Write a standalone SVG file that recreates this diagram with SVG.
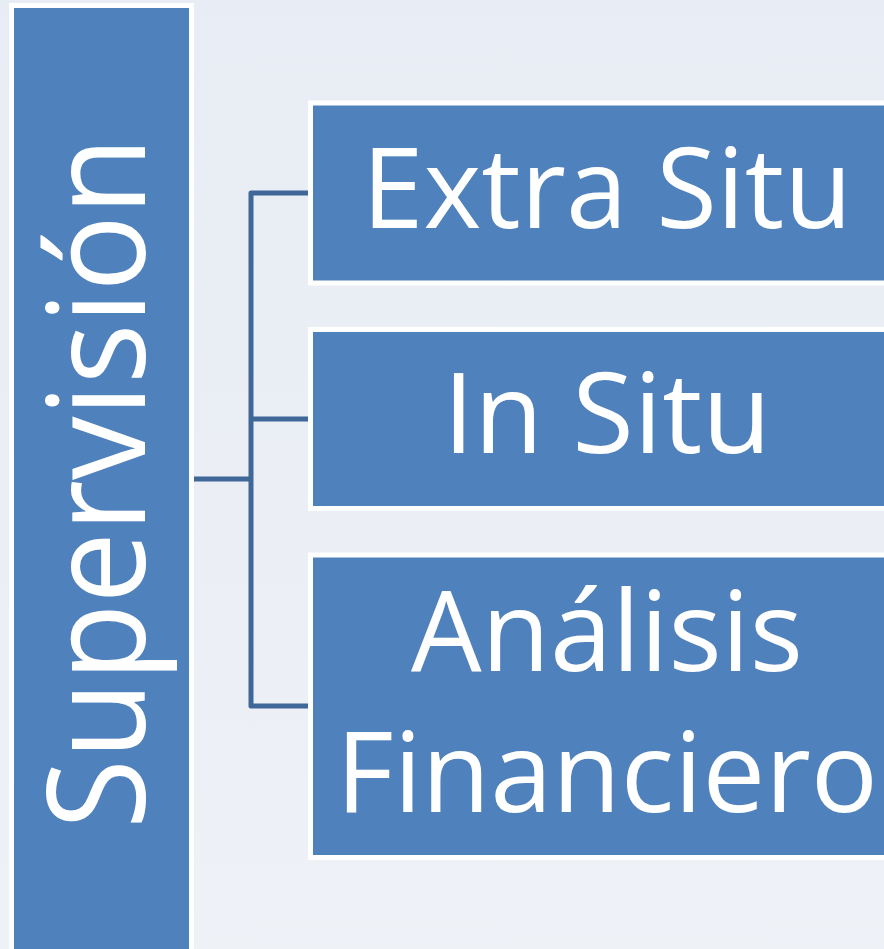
<svg xmlns="http://www.w3.org/2000/svg" width="884" height="949" viewBox="0 0 884 949">
  <defs>
    <linearGradient id="bg" x1="0" y1="0" x2="0" y2="1">
      <stop offset="0" stop-color="#e8ecf4"/>
      <stop offset="1" stop-color="#eef1f6"/>
    </linearGradient>
  </defs>
  <style>
    .box { fill: #4f81bd; stroke: #ffffff; stroke-width: 5; }
    .lbl { fill: #ffffff; font-family: "Open Sans", "Noto Sans", "Liberation Sans", sans-serif; font-size: 112px; text-anchor: middle; }
    .conn { fill: none; stroke: #3f6797; stroke-width: 5; stroke-linejoin: round; }
  </style>
  <rect x="0" y="0" width="884" height="949" fill="url(#bg)"/>

  <g id="connectors">
    <path class="conn" d="M308,193 H251 V706 H308"/>
    <path class="conn" d="M251,419 H308"/>
    <path class="conn" d="M194,479 H251"/>
  </g>

  <g id="node-supervision">
    <rect class="box" x="11.5" y="5.5" width="180" height="960"/>
    <text class="lbl" transform="translate(145,483) rotate(-90)" x="0" y="0" style="font-size:135px" textLength="692" lengthAdjust="spacingAndGlyphs">Supervisión</text>
  </g>

  <g id="node-extra-situ">
    <rect class="box" x="310.5" y="103" width="600" height="180"/>
    <text class="lbl" x="607" y="228" textLength="490" lengthAdjust="spacingAndGlyphs">Extra Situ</text>
  </g>

  <g id="node-in-situ">
    <rect class="box" x="310.5" y="329.5" width="600" height="179"/>
    <text class="lbl" x="607" y="453" textLength="328" lengthAdjust="spacingAndGlyphs">In Situ</text>
  </g>

  <g id="node-analisis">
    <rect class="box" x="310.5" y="555" width="600" height="302.5"/>
    <text class="lbl" x="607" y="671" textLength="392" lengthAdjust="spacingAndGlyphs">Análisis</text>
    <text class="lbl" x="607" y="812" textLength="542" lengthAdjust="spacingAndGlyphs">Financiero</text>
  </g>
</svg>
